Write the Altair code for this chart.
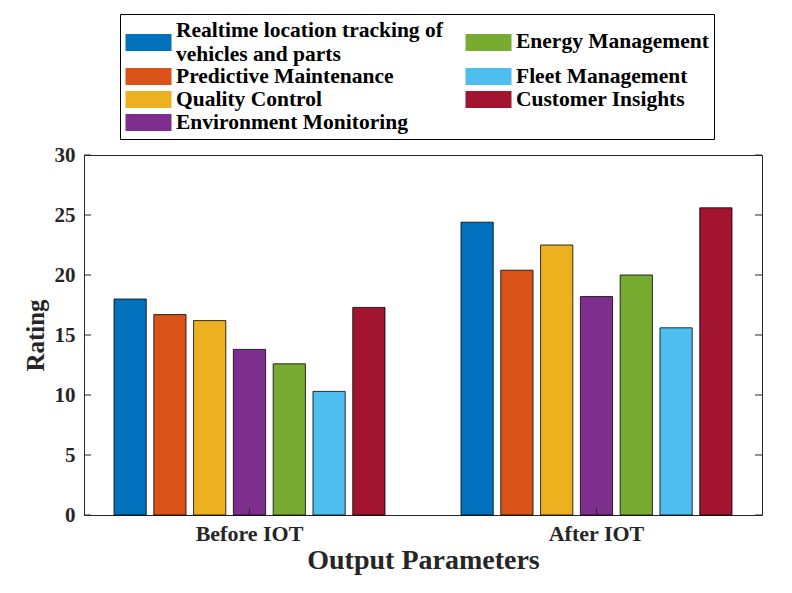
import altair as alt
import pandas as pd

groups = ["Before IOT", "After IOT"]
series = [
    "Realtime location tracking of vehicles and parts",
    "Predictive Maintenance",
    "Quality Control",
    "Environment Monitoring",
    "Energy Management",
    "Fleet Management",
    "Customer Insights",
]
colors = ["#0072BD", "#D95319", "#EDB120", "#7E2F8E", "#77AC30", "#4DBEEE", "#A2142F"]
before = [18.0, 16.7, 16.2, 13.8, 12.6, 10.3, 17.3]
after = [24.4, 20.4, 22.5, 18.2, 20.0, 15.6, 25.6]
y_ticks = [0, 5, 10, 15, 20, 25, 30]

rows = []
for g, vals in zip(groups, [before, after]):
    for s, v in zip(series, vals):
        rows.append({"group": g, "series": s, "rating": v})
df = pd.DataFrame(rows)
ticks_df = pd.DataFrame({"rating": y_ticks})
groups_df = pd.DataFrame({"group": groups})

W, H = 678, 360
FONT = "Liberation Serif"
INK = "#262626"
LEG_FS = 21.5
LINE_H = 24

# legend swatch shapes (the two-line entry's swatch sits between its lines)
swatch = "M-1,-0.773L3.182,-0.773L3.182,0.773L-1,0.773Z"
sh = LINE_H / 2 / 11.0
swatch_low = "M-1,{a:.3f}L3.182,{a:.3f}L3.182,{b:.3f}L-1,{b:.3f}Z".format(a=-0.773 + sh, b=0.773 + sh)
swatches = [swatch_low] + [swatch] * (len(series) - 1)

xscale = alt.Scale(domain=groups, range=[-8, W + 8], paddingInner=0, paddingOuter=0)
yscale = alt.Scale(domain=[0, 30])
offscale = alt.Scale(domain=series, paddingInner=0.19, paddingOuter=0.955)

x_axis = alt.Axis(
    title="Output Parameters",
    labelAngle=0,
    domain=False,
    ticks=False,
    labelFont=FONT,
    labelFontSize=22,
    labelFontWeight="bold",
    labelColor=INK,
    labelPadding=8,
    titleFont=FONT,
    titleFontSize=28,
    titleFontWeight="bold",
    titleColor=INK,
    titlePadding=2,
)
y_axis = alt.Axis(
    values=y_ticks,
    title="Rating",
    domain=False,
    ticks=False,
    grid=False,
    labelFont=FONT,
    labelFontSize=21,
    labelFontWeight="bold",
    labelColor=INK,
    labelPadding=9,
    titleFont=FONT,
    titleFontSize=25,
    titleFontWeight="bold",
    titleColor=INK,
    titlePadding=6,
)

label_expr = (
    "datum.label == '" + series[0] + "' ? ['Realtime location tracking of', 'vehicles and parts'] : datum.label"
)

legend = alt.Legend(
    orient="none",
    legendX=36,
    legendY=-141,
    columns=2,
    title=None,
    labelFont=FONT,
    labelFontSize=LEG_FS,
    labelFontWeight="bold",
    labelColor="black",
    labelLimit=500,
    labelExpr=label_expr,
    labelOffset=28,
    symbolType=swatch,
    symbolSize=484,
    symbolStrokeColor="black",
    symbolStrokeWidth=1,
    symbolOpacity=1,
    strokeColor="black",
    fillColor="white",
    padding=5,
    rowPadding=0,
    columnPadding=20,
)
color_scale = alt.Scale(domain=series, range=colors)

bars = alt.Chart(df).mark_bar(stroke="black", strokeWidth=0.8).encode(
    x=alt.X("group:N", sort=groups, scale=xscale, axis=x_axis),
    xOffset=alt.XOffset("series:N", sort=series, scale=offscale),
    y=alt.Y("rating:Q", scale=yscale, axis=y_axis),
    color=alt.Color("series:N", scale=color_scale, legend=legend),
)

keys = alt.Chart(df).mark_point(filled=True, opacity=0).encode(
    x=alt.X("group:N", sort=groups, scale=xscale, axis=x_axis),
    xOffset=alt.XOffset("series:N", sort=series, scale=offscale),
    y=alt.Y("rating:Q", scale=yscale, axis=y_axis),
    color=alt.Color("series:N", scale=color_scale, legend=legend),
    shape=alt.Shape("series:N", scale=alt.Scale(domain=series, range=swatches), legend=legend),
)

left_ticks = alt.Chart(ticks_df).mark_rule(color=INK, strokeWidth=1).encode(
    y=alt.Y("rating:Q", scale=yscale, axis=y_axis), x=alt.value(0), x2=alt.value(7)
)
right_ticks = alt.Chart(ticks_df).mark_rule(color=INK, strokeWidth=1).encode(
    y=alt.Y("rating:Q", scale=yscale, axis=y_axis), x=alt.value(W - 7), x2=alt.value(W)
)
bottom_ticks = alt.Chart(groups_df).mark_rule(color=INK, strokeWidth=1).encode(
    x=alt.X("group:N", sort=groups, scale=xscale, axis=x_axis), y=alt.value(H), y2=alt.value(H - 7)
)

chart = (
    alt.layer(keys, bars, left_ticks, right_ticks, bottom_ticks)
    .properties(
        width=W,
        height=H,
        autosize=alt.AutoSizeParams(type="none"),
        padding={"left": 76, "top": 147, "right": 20, "bottom": 60},
        background="white",
    )
    .configure(
        style={"guide-label": {"lineHeight": LINE_H}},
        view=alt.ViewConfig(stroke=INK, strokeWidth=1),
    )
)

chart.save("out.html", embed_options={"renderer": "svg", "actions": False})
